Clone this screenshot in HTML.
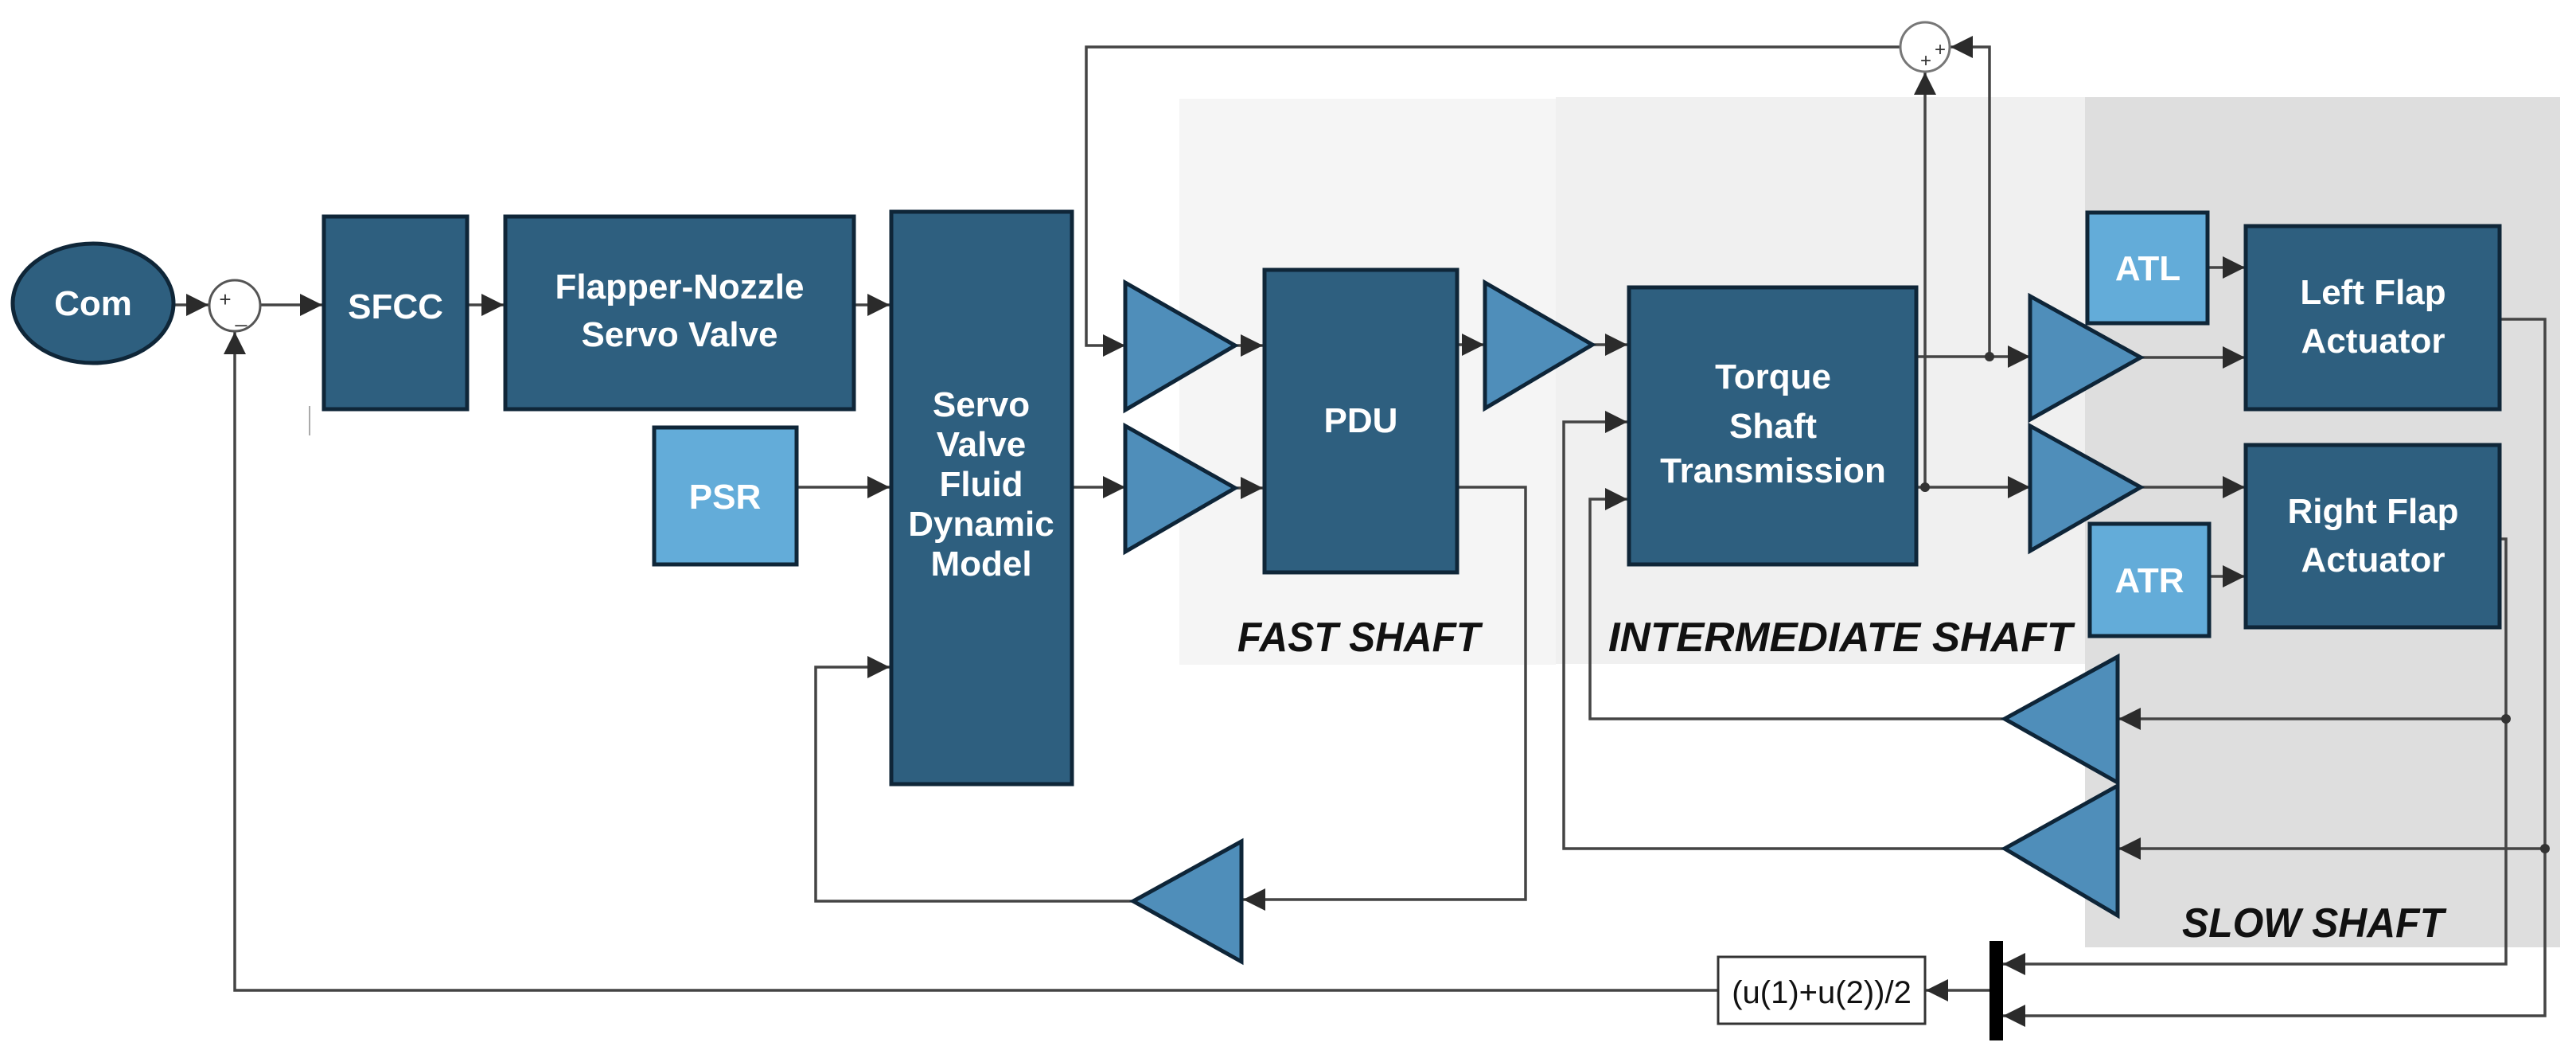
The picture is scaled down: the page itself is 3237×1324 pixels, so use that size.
<!DOCTYPE html>
<html><head><meta charset="utf-8"><style>
html,body{margin:0;padding:0;background:#fff;}
svg{display:block;}
.b{fill:#2e5f7f;stroke:#0f2638;stroke-width:5;}
.l{fill:#63acd9;stroke:#0f2638;stroke-width:5;}
.t{fill:#4f8eba;stroke:#0e2538;stroke-width:5;stroke-linejoin:miter;}
.w{fill:#fff;font-family:"Liberation Sans",sans-serif;font-weight:bold;font-size:44px;text-anchor:middle;}
.ln{fill:none;stroke:#444;stroke-width:3.5;}
.lab{font-family:"Liberation Sans",sans-serif;font-weight:bold;font-style:italic;font-size:52px;fill:#111;}
</style></head><body>
<svg width="3237" height="1324" viewBox="0 0 3237 1324" xmlns="http://www.w3.org/2000/svg">
<defs>
<marker id="a" viewBox="0 0 10 10" refX="10" refY="5" markerWidth="28" markerHeight="30" markerUnits="userSpaceOnUse" orient="auto"><path d="M0,0 L10,5 L0,10 z" fill="#2b2b2b"/></marker>
</defs>
<!-- regions -->
<rect x="1482" y="124" width="473" height="711" fill="#f5f5f5"/>
<rect x="1955" y="122" width="665" height="712" fill="#f0f0f0"/>
<rect x="2620" y="122" width="597" height="1068" fill="#dedede"/>

<!-- connectors -->
<g class="ln">
<line x1="219" y1="383" x2="262" y2="383" marker-end="url(#a)"/>
<line x1="328" y1="383" x2="405" y2="383" marker-end="url(#a)"/>
<line x1="588" y1="383" x2="633" y2="383" marker-end="url(#a)"/>
<line x1="1074" y1="383" x2="1118" y2="383" marker-end="url(#a)"/>
<line x1="1002" y1="612" x2="1118" y2="612" marker-end="url(#a)"/>
<line x1="1348" y1="612" x2="1414" y2="612" marker-end="url(#a)"/>
<line x1="1552" y1="434" x2="1587" y2="434" marker-end="url(#a)"/>
<line x1="1552" y1="613" x2="1587" y2="613" marker-end="url(#a)"/>
<polyline points="2388,59 1365,59 1365,434 1414,434" marker-end="url(#a)"/>
<line x1="1832" y1="433" x2="1865" y2="433" marker-end="url(#a)"/>
<line x1="2001" y1="433" x2="2045" y2="433" marker-end="url(#a)"/>
<polyline points="1832,612 1917,612 1917,1130 1562,1130" marker-end="url(#a)"/>
<polyline points="1424,1132 1025,1132 1025,838 1118,838" marker-end="url(#a)"/>
<line x1="2409" y1="448" x2="2551" y2="448" marker-end="url(#a)"/>
<line x1="2409" y1="612" x2="2551" y2="612" marker-end="url(#a)"/>
<polyline points="2500,448 2500,59 2451,59" marker-end="url(#a)"/>
<line x1="2419" y1="612" x2="2419" y2="91" marker-end="url(#a)"/>
<line x1="2692" y1="449" x2="2821" y2="449" marker-end="url(#a)"/>
<line x1="2692" y1="612" x2="2821" y2="612" marker-end="url(#a)"/>
<line x1="2775" y1="336" x2="2821" y2="336" marker-end="url(#a)"/>
<line x1="2777" y1="724" x2="2821" y2="724" marker-end="url(#a)"/>
<polyline points="3142,401 3198,401 3198,1276 2517,1276" marker-end="url(#a)"/>
<polyline points="3142,677 3149,677 3149,1211 2517,1211" marker-end="url(#a)"/>
<line x1="3149" y1="903" x2="2662" y2="903" marker-end="url(#a)"/>
<line x1="3198" y1="1066" x2="2662" y2="1066" marker-end="url(#a)"/>
<polyline points="2519,903 1998,903 1998,627 2045,627" marker-end="url(#a)"/>
<polyline points="2519,1066 1965,1066 1965,530 2045,530" marker-end="url(#a)"/>
<line x1="2500" y1="1244" x2="2420" y2="1244" marker-end="url(#a)"/>
<polyline points="2158,1244 295,1244 295,417" marker-end="url(#a)"/>
<line x1="389" y1="510" x2="389" y2="547" stroke="#aaa" stroke-width="2"/>
</g>
<circle cx="2500" cy="448" r="6" fill="#333"/>
<circle cx="2419" cy="612" r="6" fill="#333"/>
<circle cx="3149" cy="903" r="6" fill="#333"/>
<circle cx="3198" cy="1066" r="6" fill="#333"/>

<!-- sum circles -->
<circle cx="295" cy="384" r="32" fill="#fff" stroke="#555" stroke-width="3"/>
<text x="283" y="385" font-family="Liberation Sans,sans-serif" font-size="26" fill="#333" text-anchor="middle">+</text>
<text x="303" y="405" font-family="Liberation Sans,sans-serif" font-size="26" fill="#333" text-anchor="middle">_</text>
<circle cx="2419" cy="59" r="31" fill="#fff" stroke="#777" stroke-width="3"/>
<text x="2438" y="70" font-family="Liberation Sans,sans-serif" font-size="24" fill="#333" text-anchor="middle">+</text>
<text x="2420" y="84" font-family="Liberation Sans,sans-serif" font-size="24" fill="#333" text-anchor="middle">+</text>

<!-- blocks -->
<ellipse cx="117" cy="381" rx="101" ry="75" class="b"/>
<text x="117" y="396" class="w" font-size="42">Com</text>
<rect x="407" y="272" width="180" height="242" class="b"/>
<text x="497" y="400" class="w" font-size="46">SFCC</text>
<rect x="635" y="272" width="438" height="242" class="b"/>
<text x="854" y="375" class="w">Flapper-Nozzle</text>
<text x="854" y="435" class="w">Servo Valve</text>
<rect x="1120" y="266" width="227" height="719" class="b"/>
<text x="1233" y="523" class="w" font-size="40">Servo</text>
<text x="1233" y="573" class="w" font-size="40">Valve</text>
<text x="1233" y="623" class="w" font-size="40">Fluid</text>
<text x="1233" y="673" class="w" font-size="40">Dynamic</text>
<text x="1233" y="723" class="w" font-size="40">Model</text>
<rect x="822" y="537" width="179" height="172" class="l"/>
<text x="911" y="639" class="w" font-size="46">PSR</text>
<rect x="1589" y="339" width="242" height="380" class="b"/>
<text x="1710" y="543" class="w" font-size="46">PDU</text>
<rect x="2047" y="361" width="361" height="348" class="b"/>
<text x="2228" y="488" class="w">Torque</text>
<text x="2228" y="550" class="w">Shaft</text>
<text x="2228" y="606" class="w">Transmission</text>
<rect x="2623" y="267" width="151" height="139" class="l"/>
<text x="2699" y="352" class="w" font-size="44">ATL</text>
<rect x="2626" y="658" width="150" height="141" class="l"/>
<text x="2701" y="744" class="w" font-size="44">ATR</text>
<rect x="2822" y="284" width="319" height="230" class="b"/>
<text x="2982" y="382" class="w">Left Flap</text>
<text x="2982" y="443" class="w">Actuator</text>
<rect x="2822" y="559" width="319" height="229" class="b"/>
<text x="2982" y="657" class="w">Right Flap</text>
<text x="2982" y="718" class="w">Actuator</text>

<!-- triangles -->
<polygon points="1414,355 1552,434 1414,515" class="t"/>
<polygon points="1414,535 1552,613 1414,693" class="t"/>
<polygon points="1866,355 2001,433 1866,513" class="t"/>
<polygon points="2551,372 2690,449 2551,527" class="t"/>
<polygon points="2551,535 2690,612 2551,692" class="t"/>
<polygon points="1560,1057 1424,1132 1560,1208" class="t"/>
<polygon points="2661,825 2519,903 2661,983" class="t"/>
<polygon points="2661,987 2519,1066 2661,1150" class="t"/>

<!-- mux & fcn -->
<rect x="2500" y="1182" width="17" height="125" fill="#000"/>
<rect x="2159" y="1202" width="260" height="84" fill="#fff" stroke="#333" stroke-width="3"/>
<text x="2289" y="1260" font-family="Liberation Sans,sans-serif" font-size="40" fill="#111" text-anchor="middle">(u(1)+u(2))/2</text>

<!-- labels -->
<text x="1555" y="818" class="lab" textLength="305" lengthAdjust="spacingAndGlyphs">FAST SHAFT</text>
<text x="2021" y="818" class="lab" textLength="583" lengthAdjust="spacingAndGlyphs">INTERMEDIATE SHAFT</text>
<text x="2742" y="1177" class="lab" textLength="329" lengthAdjust="spacingAndGlyphs">SLOW SHAFT</text>
</svg>
</body></html>
